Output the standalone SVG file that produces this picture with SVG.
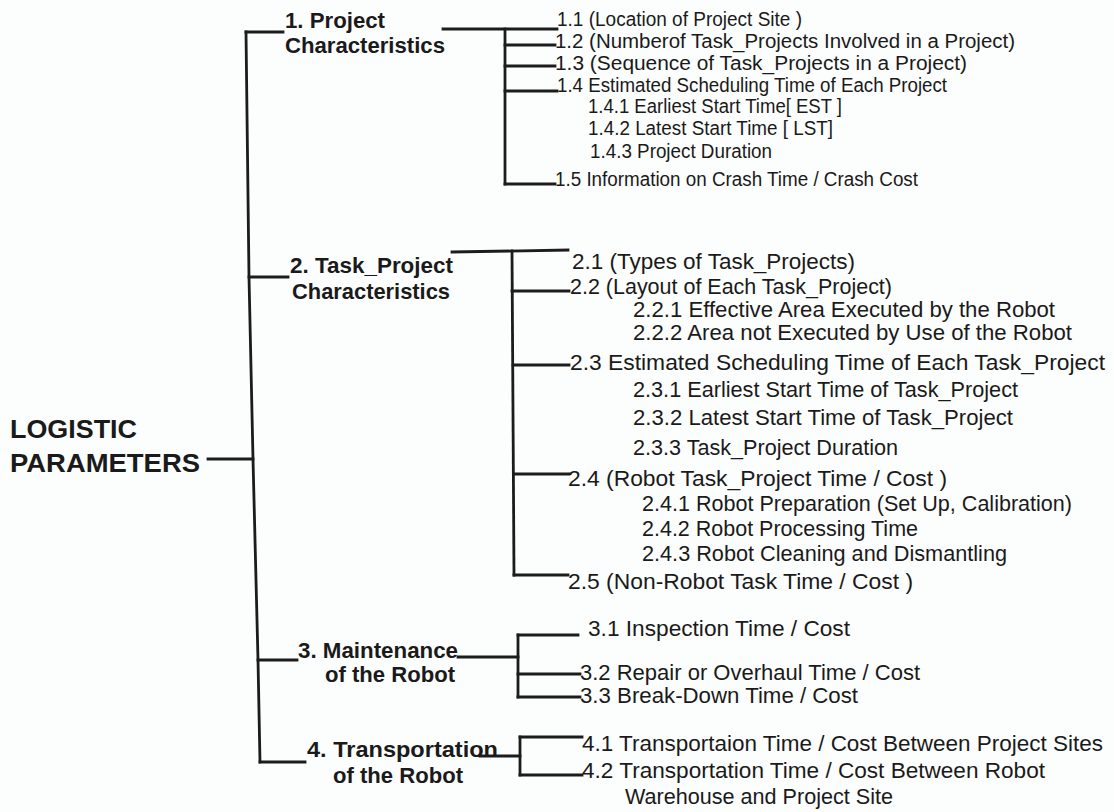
<svg xmlns="http://www.w3.org/2000/svg" width="1114" height="812" viewBox="0 0 1114 812">
<style>
.bg{fill:#fcfdfd}
text{font-family:"Liberation Sans",Arial,Helvetica,sans-serif;fill:#1a1a1a}
.r{font-size:26px;font-weight:bold}
.b{font-size:22px;font-weight:bold}
.s{font-size:20px}
.m{font-size:22px}
.c line,.c polyline{stroke:#1c1c1c;stroke-width:2.8;fill:none;stroke-linecap:square}
</style>
<rect class="bg" x="0" y="0" width="1114" height="812"/>
<g class="c" id="connectors">
<line x1="208" y1="459" x2="253" y2="459"/>
<polyline points="246,32 249,277 253,459 258,660 260,762"/>
<line x1="246" y1="32" x2="283" y2="32"/>
<line x1="249" y1="277" x2="288" y2="277"/>
<line x1="258" y1="660" x2="297" y2="660"/>
<line x1="260" y1="762" x2="305" y2="762"/>
<line x1="443" y1="29" x2="557" y2="29"/>
<line x1="505" y1="29" x2="505" y2="184"/>
<line x1="505" y1="45" x2="555" y2="45"/>
<line x1="505" y1="66" x2="555" y2="66"/>
<line x1="505" y1="91" x2="557" y2="91"/>
<line x1="505" y1="184" x2="555" y2="184"/>
<line x1="452" y1="252" x2="568" y2="250"/>
<polyline points="512,251 514,575"/>
<line x1="512" y1="291" x2="569" y2="291"/>
<line x1="513" y1="365" x2="569" y2="365"/>
<line x1="514" y1="474" x2="569" y2="474"/>
<line x1="514" y1="575" x2="568" y2="575"/>
<line x1="458" y1="657" x2="518" y2="657"/>
<line x1="518" y1="635" x2="518" y2="697"/>
<line x1="518" y1="635" x2="578" y2="635"/>
<line x1="518" y1="674" x2="580" y2="674"/>
<line x1="518" y1="697" x2="580" y2="697"/>
<line x1="480" y1="756" x2="520" y2="756"/>
<line x1="520" y1="737" x2="520" y2="775"/>
<line x1="520" y1="737" x2="582" y2="737"/>
<line x1="520" y1="775" x2="582" y2="775"/>
</g>
<g id="root">
<text class="r" x="10" y="438" textLength="127" lengthAdjust="spacingAndGlyphs">LOGISTIC</text>
<text class="r" x="10" y="472" textLength="190" lengthAdjust="spacingAndGlyphs">PARAMETERS</text>
</g>
<g id="n1">
<text class="b" x="285" y="28" textLength="100" lengthAdjust="spacingAndGlyphs">1. Project</text>
<text class="b" x="285" y="53" textLength="160" lengthAdjust="spacingAndGlyphs">Characteristics</text>
</g>
<g id="n1-items">
<text class="s" x="557" y="26" textLength="245" lengthAdjust="spacingAndGlyphs">1.1 (Location of Project Site )</text>
<text class="s" x="555" y="48" textLength="460" lengthAdjust="spacingAndGlyphs">1.2 (Numberof Task_Projects Involved in a Project)</text>
<text class="s" x="555" y="70" textLength="412" lengthAdjust="spacingAndGlyphs">1.3 (Sequence of Task_Projects in a Project)</text>
<text class="s" x="557" y="92" textLength="390" lengthAdjust="spacingAndGlyphs">1.4 Estimated Scheduling Time of Each Project</text>
<text class="s" x="588" y="113" textLength="254" lengthAdjust="spacingAndGlyphs">1.4.1 Earliest Start Time[ EST ]</text>
<text class="s" x="588" y="135" textLength="245" lengthAdjust="spacingAndGlyphs">1.4.2 Latest Start Time [ LST]</text>
<text class="s" x="590" y="158" textLength="182" lengthAdjust="spacingAndGlyphs">1.4.3 Project Duration</text>
<text class="s" x="555" y="186" textLength="363" lengthAdjust="spacingAndGlyphs">1.5 Information on Crash Time / Crash Cost</text>
</g>
<g id="n2">
<text class="b" x="290" y="273" textLength="163" lengthAdjust="spacingAndGlyphs">2. Task_Project</text>
<text class="b" x="292" y="299" textLength="158" lengthAdjust="spacingAndGlyphs">Characteristics</text>
</g>
<g id="n2-items">
<text class="m" x="572" y="269" textLength="283" lengthAdjust="spacingAndGlyphs">2.1 (Types of Task_Projects)</text>
<text class="m" x="570" y="294" textLength="322" lengthAdjust="spacingAndGlyphs">2.2 (Layout of Each Task_Project)</text>
<text class="m" x="633" y="317" textLength="422" lengthAdjust="spacingAndGlyphs">2.2.1 Effective Area Executed by the Robot</text>
<text class="m" x="633" y="340" textLength="439" lengthAdjust="spacingAndGlyphs">2.2.2 Area not Executed by Use of the Robot</text>
<text class="m" x="570" y="370" textLength="535" lengthAdjust="spacingAndGlyphs">2.3 Estimated Scheduling Time of Each Task_Project</text>
<text class="m" x="633" y="397" textLength="385" lengthAdjust="spacingAndGlyphs">2.3.1 Earliest Start Time of Task_Project</text>
<text class="m" x="633" y="425" textLength="380" lengthAdjust="spacingAndGlyphs">2.3.2 Latest Start Time of Task_Project</text>
<text class="m" x="633" y="455" textLength="265" lengthAdjust="spacingAndGlyphs">2.3.3 Task_Project Duration</text>
<text class="m" x="568" y="486" textLength="379" lengthAdjust="spacingAndGlyphs">2.4 (Robot Task_Project Time / Cost )</text>
<text class="m" x="642" y="511" textLength="430" lengthAdjust="spacingAndGlyphs">2.4.1 Robot Preparation (Set Up, Calibration)</text>
<text class="m" x="642" y="536" textLength="276" lengthAdjust="spacingAndGlyphs">2.4.2 Robot Processing Time</text>
<text class="m" x="642" y="561" textLength="365" lengthAdjust="spacingAndGlyphs">2.4.3 Robot Cleaning and Dismantling</text>
<text class="m" x="568" y="589" textLength="345" lengthAdjust="spacingAndGlyphs">2.5 (Non-Robot Task Time / Cost )</text>
</g>
<g id="n3">
<text class="b" x="298" y="658" textLength="160" lengthAdjust="spacingAndGlyphs">3. Maintenance</text>
<text class="b" x="325" y="682" textLength="130" lengthAdjust="spacingAndGlyphs">of the Robot</text>
</g>
<g id="n3-items">
<text class="m" x="588" y="636" textLength="262" lengthAdjust="spacingAndGlyphs">3.1 Inspection Time  / Cost</text>
<text class="m" x="580" y="680" textLength="340" lengthAdjust="spacingAndGlyphs">3.2 Repair or Overhaul Time / Cost</text>
<text class="m" x="580" y="703" textLength="278" lengthAdjust="spacingAndGlyphs">3.3 Break-Down Time / Cost</text>
</g>
<g id="n4">
<text class="b" x="307" y="757" textLength="191" lengthAdjust="spacingAndGlyphs">4. Transportation</text>
<text class="b" x="333" y="783" textLength="130" lengthAdjust="spacingAndGlyphs">of the Robot</text>
</g>
<g id="n4-items">
<text class="m" x="582" y="751" textLength="521" lengthAdjust="spacingAndGlyphs">4.1 Transportaion Time / Cost Between Project Sites</text>
<text class="m" x="582" y="778" textLength="463" lengthAdjust="spacingAndGlyphs">4.2 Transportation Time / Cost Between Robot</text>
<text class="m" x="625" y="804" textLength="268" lengthAdjust="spacingAndGlyphs">Warehouse and Project Site</text>
</g>
</svg>
